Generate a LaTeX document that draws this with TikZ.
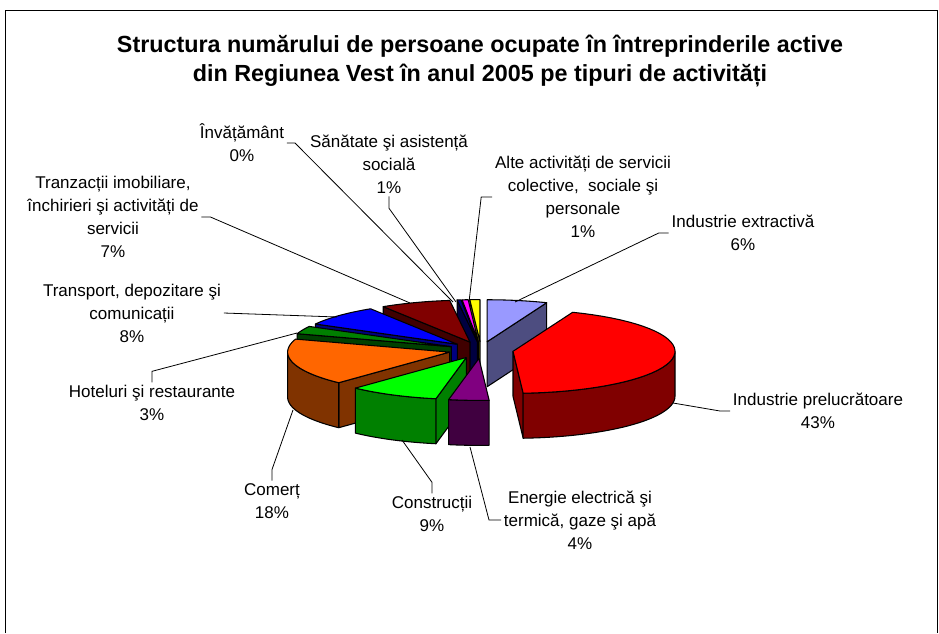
\documentclass[tikz,border=0pt]{standalone}
\usepackage{fontspec}
\setmainfont{Liberation Sans}
\usetikzlibrary{calc}

\definecolor{extr}{RGB}{153,153,255}\definecolor{extrS}{RGB}{77,77,128}
\definecolor{prel}{RGB}{255,0,0}\definecolor{prelS}{RGB}{128,0,0}
\definecolor{energ}{RGB}{128,0,128}\definecolor{energS}{RGB}{64,0,64}
\definecolor{constr}{RGB}{0,255,0}\definecolor{constrS}{RGB}{0,128,0}
\definecolor{comert}{RGB}{255,102,0}\definecolor{comertS}{RGB}{128,51,0}
\definecolor{hotel}{RGB}{0,128,0}\definecolor{hotelS}{RGB}{0,64,0}
\definecolor{transp}{RGB}{0,0,255}\definecolor{transpS}{RGB}{0,0,128}
\definecolor{tranz}{RGB}{128,0,0}\definecolor{tranzS}{RGB}{64,0,0}
\definecolor{invat}{RGB}{0,0,128}\definecolor{invatS}{RGB}{0,0,64}
\definecolor{sanat}{RGB}{255,0,255}\definecolor{sanatS}{RGB}{128,0,128}
\definecolor{alte}{RGB}{255,255,0}\definecolor{alteS}{RGB}{128,128,0}

\tikzset{
  face/.style={draw=black,line width=0.8pt,line join=round},
  leader/.style={draw=black,line width=0.6pt},
  lbl/.style={align=center,inner sep=2pt,font=\fontsize{12.75}{17.25}\selectfont},
}

% pie centre, radii, explosion, height (pixel units)
\def\pcx{481}\def\pcy{350}\def\prx{162}\def\pry{42}
\def\pex{32.4}\def\pey{8.4}\def\pdep{45}

% #1,#2 start/end angle (clockwise from back), #3 top colour, #4 side colour
\newcommand{\pieslice}[4]{%
  \pgfmathsetmacro\midang{(#1+#2)/2}
  \pgfmathsetmacro\apx{\pcx+\pex*sin(\midang)}
  \pgfmathsetmacro\apy{\pcy-\pey*cos(\midang)}
  \coordinate (A) at (\apx,\apy);
  \coordinate (S) at ({\apx+\prx*sin(#1)},{\apy-\pry*cos(#1)});
  \coordinate (E) at ({\apx+\prx*sin(#2)},{\apy-\pry*cos(#2)});
  \pgfmathtruncatemacro\vs{sin(#1)<-0.001}
  \ifnum\vs=1 \filldraw[face,fill=#4] (A) -- (S) -- ++(0,\pdep) -- ($(A)+(0,\pdep)$) -- cycle; \fi
  \pgfmathtruncatemacro\ve{sin(#2)>0.001}
  \ifnum\ve=1 \filldraw[face,fill=#4] (A) -- (E) -- ++(0,\pdep) -- ($(A)+(0,\pdep)$) -- cycle; \fi
  \pgfmathsetmacro\wa{max(#1,90)}
  \pgfmathsetmacro\wb{min(#2,270)}
  \ifdim\wa pt<\wb pt
    \filldraw[face,fill=#4] plot[domain=\wa:\wb,samples=30] ({\apx+\prx*sin(\x)},{\apy-\pry*cos(\x)})
      -- plot[domain=\wb:\wa,samples=30] ({\apx+\prx*sin(\x)},{\apy-\pry*cos(\x)+\pdep}) -- cycle;
  \fi
  \filldraw[face,fill=#3] (A) -- plot[domain=#1:#2,samples=40] ({\apx+\prx*sin(\x)},{\apy-\pry*cos(\x)}) -- cycle;
}

\begin{document}
\begin{tikzpicture}[x=0.75pt,y=-0.75pt]
  \useasboundingbox (0,0) rectangle (939,633);
  \draw[line width=1.1pt] (5.5,633) -- (5.5,10.5) -- (937.5,10.5) -- (937.5,633);

  \node[align=center,font=\fontsize{17.5}{21.75}\selectfont\bfseries] (title) at (480,61)
    {Structura numărului de persoane ocupate în întreprinderile active\\din Regiunea Vest în anul 2005 pe tipuri de activități};

  % slices, back to front
  \foreach \s/\e/\top/\side in {356.4/360/alte/alteS, 354.24/356.4/sanat/sanatS, 352.8/354.24/invat/invatS,
      0/21.6/extr/extrS, 327.6/352.8/tranz/tranzS, 298.8/327.6/transp/transpS, 288/298.8/hotel/hotelS,
      21.6/176.4/prel/prelS, 223.2/288/comert/comertS, 190.8/223.2/constr/constrS, 176.4/190.8/energ/energS}
    {\pieslice{\s}{\e}{\top}{\side}}

  \coordinate (pExtr) at (515,302);
  \coordinate (pPrel) at (673,403);
  \coordinate (pEnerg) at (470,447);
  \coordinate (pConstr) at (402,440);
  \coordinate (pCom) at (293,410);
  \coordinate (pHotel) at (297,333);
  \coordinate (pTransp) at (337,317);
  \coordinate (pTranz) at (410,303);
  \coordinate (pInv) at (453,302);
  \coordinate (pSan) at (456,302);
  \coordinate (pAlte) at (469,302);

  \node[lbl] (lExtr) at (743,233) {Industrie extractivă\\6\%};
  \node[lbl] (lPrel) at (818,411) {Industrie prelucrătoare\\43\%};
  \node[lbl] (lEnerg) at (580,520) {Energie electrică şi\\termică, gaze şi apă\\4\%};
  \node[lbl] (lConstr) at (432,514) {Construcții\\9\%};
  \node[lbl] (lCom) at (272,501) {Comerț\\18\%};
  \node[lbl] (lHotel) at (152,403) {Hoteluri şi restaurante\\3\%};
  \node[lbl] (lTransp) at (132,313) {Transport, depozitare şi\\comunicații\\8\%};
  \node[lbl] (lTranz) at (113,217) {Tranzacții imobiliare,\\închirieri şi activități de\\servicii\\7\%};
  \node[lbl] (lInv) at (242,143) {Învățământ\\0\%};
  \node[lbl] (lSan) at (389,164) {Sănătate şi asistență\\socială\\1\%};
  \node[lbl] (lAlte) at (583,197) {Alte activități de servicii\\colective,~ sociale şi\\personale\\1\%};

  \draw[leader] (pExtr) -- ($(lExtr.west)+(-10,0)$) -- (lExtr.west);
  \draw[leader] (pPrel) -- ($(lPrel.west)+(-10,0)$) -- (lPrel.west);
  \draw[leader] (pEnerg) -- ($(lEnerg.west)+(-12,0)$) -- (lEnerg.west);
  \draw[leader] (pConstr) -- ($(lConstr.north)+(0,-11)$) -- (lConstr.north);
  \draw[leader] (pCom) -- ($(lCom.north)+(0,-11)$) -- (lCom.north);
  \draw[leader] (pHotel) -- ($(lHotel.north)+(0,-11)$) -- (lHotel.north);
  \draw[leader] (pTransp) -- (lTransp.east);
  \draw[leader] (pTranz) -- ($(lTranz.east)+(9,0)$) -- (lTranz.east);
  \draw[leader] (pInv) -- ($(lInv.east)+(8,0)$) -- (lInv.east);
  \draw[leader] (pSan) -- ($(lSan.south)+(0,12)$) -- (lSan.south);
  \draw[leader] (pAlte) -- ($(lAlte.west)+(-11,0)$) -- (lAlte.west);
\end{tikzpicture}
\end{document}
